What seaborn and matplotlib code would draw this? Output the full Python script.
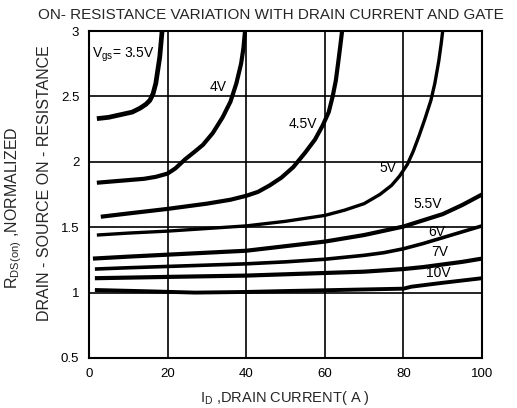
import matplotlib

matplotlib.use("Agg")
import matplotlib.pyplot as plt
import pandas as pd
import seaborn as sns

# drain current (A) / normalized on-resistance
vgs_35_x = [2, 5, 8, 11, 13, 14.5, 15.5, 16.3, 17, 17.5, 18, 18.3, 18.6]
vgs_35_y = [2.33, 2.34, 2.36, 2.38, 2.41, 2.44, 2.47, 2.52, 2.6, 2.7, 2.8, 2.9, 3.0]

vgs_4_x = [2, 6, 10, 14, 17, 20, 22, 24.5, 27, 29, 31.5, 34, 36, 37.5, 38.7, 39.3, 39.7]
vgs_4_y = [1.84, 1.85, 1.86, 1.87, 1.885, 1.91, 1.95, 2.02, 2.08, 2.13, 2.22, 2.34,
           2.46, 2.6, 2.75, 2.87, 3.0]

vgs_45_x = [3, 10, 20, 30, 36, 40, 43, 46, 49, 52, 55, 57.5, 59.5, 61, 62, 62.8,
            63.5, 64, 64.4]
vgs_45_y = [1.58, 1.605, 1.64, 1.68, 1.71, 1.74, 1.77, 1.82, 1.88, 1.96, 2.07, 2.17,
            2.28, 2.38, 2.5, 2.62, 2.78, 2.9, 3.0]

vgs_5_x = [2, 10, 20, 30, 40, 50, 60, 65, 70, 74, 77, 79, 81, 82.5, 84, 85.5, 87,
           88, 89, 89.6, 90]
vgs_5_y = [1.44, 1.455, 1.47, 1.49, 1.51, 1.545, 1.59, 1.63, 1.68, 1.75, 1.82, 1.89,
           1.98, 2.08, 2.2, 2.33, 2.47, 2.6, 2.77, 2.9, 3.0]

vgs_55_x = [1, 10, 20, 30, 40, 50, 60, 70, 80, 90, 95, 100]
vgs_55_y = [1.26, 1.275, 1.29, 1.305, 1.32, 1.355, 1.39, 1.44, 1.505, 1.6, 1.67, 1.75]

vgs_6_x = [1.5, 10, 20, 30, 40, 50, 60, 70, 75, 80, 85, 90, 95, 100]
vgs_6_y = [1.18, 1.19, 1.2, 1.21, 1.22, 1.235, 1.255, 1.285, 1.305, 1.335, 1.375,
           1.42, 1.465, 1.51]

vgs_7_x = [1.5, 20, 40, 60, 70, 80, 85, 90, 95, 100]
vgs_7_y = [1.11, 1.12, 1.13, 1.15, 1.16, 1.18, 1.195, 1.215, 1.235, 1.26]

vgs_10_x = [1.5, 15, 27, 40, 50, 60, 70, 80, 82, 90, 100]
vgs_10_y = [1.02, 1.01, 1.0, 1.005, 1.012, 1.018, 1.024, 1.03, 1.045, 1.075, 1.11]

curve_labels = ["V$_{gs}$= 3.5V", "4V", "4.5V", "5V", "5.5V", "6V", "7V", "10V"]
label_x = [0.8, 32.8, 54.5, 76, 86.3, 88.6, 89.3, 88.8]
label_y = [2.82, 2.57, 2.29, 1.95, 1.68, 1.46, 1.31, 1.15]

x_ticks = [0, 20, 40, 60, 80, 100]
y_ticks = [0.5, 1, 1.5, 2, 2.5, 3]
y_tick_labels = ["0.5", "1", "1.5", "2", "2.5", "3"]

series = [
    (vgs_35_x, vgs_35_y, 3.4),
    (vgs_4_x, vgs_4_y, 3.0),
    (vgs_45_x, vgs_45_y, 3.0),
    (vgs_5_x, vgs_5_y, 2.4),
    (vgs_55_x, vgs_55_y, 3.0),
    (vgs_6_x, vgs_6_y, 2.6),
    (vgs_7_x, vgs_7_y, 3.0),
    (vgs_10_x, vgs_10_y, 2.8),
]

sns.set_style("white")
plt.rcParams["font.family"] = ["Liberation Sans", "DejaVu Sans"]
plt.rcParams["mathtext.fontset"] = "custom"
plt.rcParams["mathtext.rm"] = "Liberation Sans"
plt.rcParams["mathtext.it"] = "Liberation Sans"

fig = plt.figure(figsize=(5.17, 4.08), dpi=100)
ax = fig.add_axes([89 / 517, 50 / 408, 393 / 517, 327 / 408])

for xs, ys, lw in series:
    df = pd.DataFrame({"x": xs, "y": ys})
    sns.lineplot(data=df, x="x", y="y", ax=ax, color="black", lw=lw,
                 sort=False, estimator=None, solid_capstyle="butt",
                 solid_joinstyle="round")

for lbl, lx, ly in zip(curve_labels, label_x, label_y):
    ha = "left" if lx < 5 else "center"
    ax.text(lx, ly, lbl, ha=ha, va="center", fontsize=10, color="black")

ax.set_xlim(0, 100)
ax.set_ylim(0.5, 3)
ax.set_xticks(x_ticks)
ax.set_yticks(y_ticks)
ax.set_yticklabels(y_tick_labels)
ax.tick_params(length=0, labelsize=9.5, pad=7, colors="black")
ax.grid(True, color="black", lw=1.2)
for sp in ax.spines.values():
    sp.set_color("black")
    sp.set_linewidth(1.5)

ax.set_xlabel("")
ax.set_ylabel("")
fig.text(285 / 517, 1 - 398 / 408, "I$_{D}$ ,DRAIN CURRENT( A )",
         ha="center", va="center", fontsize=10.5)
fig.text(14 / 517, 1 - 208 / 408, "R$_{DS(on)}$ ,NORMALIZED", rotation=90,
         ha="center", va="center", fontsize=11.5)
fig.text(45 / 517, 1 - 183 / 408, "DRAIN - SOURCE ON - RESISTANCE", rotation=90,
         ha="center", va="center", fontsize=11.5)
fig.text(271 / 517, 1 - 15 / 408, "ON- RESISTANCE VARIATION WITH DRAIN CURRENT AND GATE",
         ha="center", va="center", fontsize=11)

fig.savefig("out.png", dpi=100)
